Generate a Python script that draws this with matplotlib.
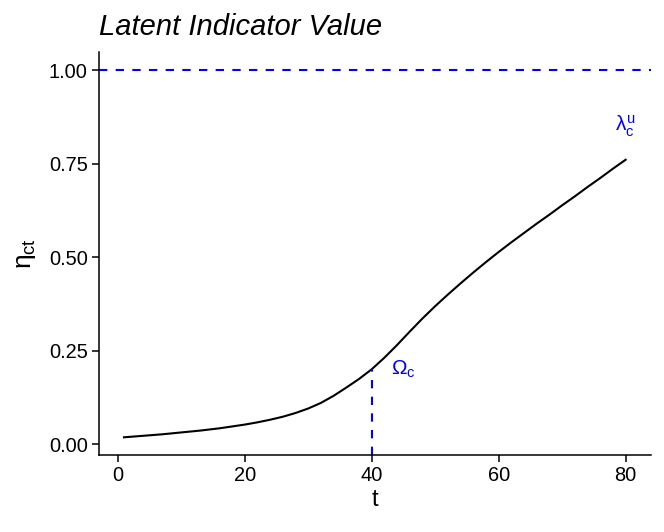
import matplotlib
matplotlib.use('Agg')
from matplotlib import pyplot as plt

plt.rcParams['font.family'] = ['Liberation Sans', 'DejaVu Sans']
plt.rcParams['mathtext.fontset'] = 'custom'
plt.rcParams['mathtext.rm'] = 'Liberation Sans'
plt.rcParams['mathtext.it'] = 'Liberation Sans'
plt.rcParams['mathtext.bf'] = 'Liberation Sans:bold'

# 곡선 데이터
t_vals = [1, 4, 7, 10, 13, 16, 18, 20, 22, 24, 26, 28, 30, 32, 34, 36, 38,
          40, 42, 44, 46, 48, 50, 52, 54, 56, 58, 60, 62, 64, 66, 68, 70,
          72, 74, 76, 78, 80]
eta_vals = [0.018, 0.022, 0.026, 0.031, 0.036, 0.042, 0.047, 0.052, 0.058,
            0.065, 0.073, 0.083, 0.095, 0.110, 0.129, 0.151, 0.174,
            0.200, 0.231, 0.265, 0.301, 0.336, 0.369, 0.400, 0.430, 0.459,
            0.487, 0.514, 0.540, 0.565, 0.590, 0.614, 0.639,
            0.663, 0.688, 0.712, 0.737, 0.761]

upper_level = 1.0
omega_t = 40
omega_eta = 0.20
lambda_pos = (80, 0.85)
omega_label_pos = (45, 0.20)

x_ticks = [0, 20, 40, 60, 80]
y_ticks = [0.00, 0.25, 0.50, 0.75, 1.00]

fig = plt.figure(figsize=(6.64, 5.32), dpi=100)
ax = fig.add_axes([0.149, 0.145, 0.831, 0.757])

ax.plot(t_vals, eta_vals, color='black', lw=1.5, solid_joinstyle='round')
ax.axhline(upper_level, color='blue', ls=(0, (4, 4)), lw=1.5)

ymin, ymax = -0.029, 1.049
ax.plot([omega_t, omega_t], [ymin, omega_eta], color='blue', ls=(0, (4, 4)), lw=1.5)

ax.text(lambda_pos[0], lambda_pos[1], r'$\lambda_{\mathrm{c}}^{\mathrm{u}}$', color='blue',
        fontsize=15, ha='center', va='center')
ax.text(omega_label_pos[0], omega_label_pos[1], r'$\Omega_{\mathrm{c}}$', color='blue',
        fontsize=15, ha='center', va='center')

ax.set_xlim(-2.95, 83.95)
ax.set_ylim(ymin, ymax)
ax.set_xticks(x_ticks)
ax.set_yticks(y_ticks)
ax.set_yticklabels(['%.2f' % v for v in y_ticks])

for side in ['top', 'right']:
    ax.spines[side].set_visible(False)
for side in ['left', 'bottom']:
    ax.spines[side].set_linewidth(1.1)
ax.tick_params(direction='out', length=5, width=1.1, labelsize=14.4, colors='black', pad=3)

ax.set_xlabel('t', fontsize=17, labelpad=3)
ax.set_ylabel(r'$\eta_{\mathrm{ct}}$', fontsize=19, labelpad=8)
ax.set_title('Latent Indicator Value', fontsize=21, style='italic', loc='left', pad=12)

plt.savefig('out.png', dpi=100)
plt.close()
